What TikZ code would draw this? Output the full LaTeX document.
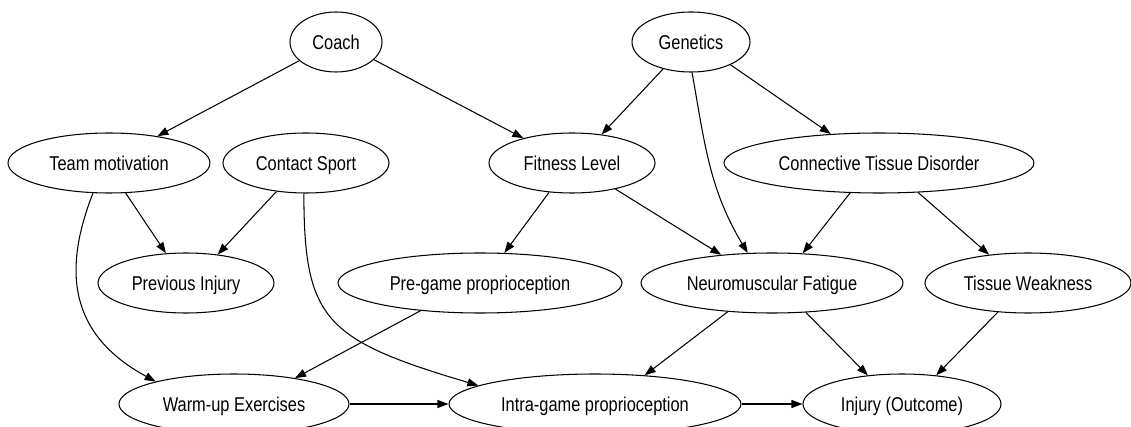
\documentclass[tikz,border=0pt]{standalone}
\usepackage{fontspec}
\setmainfont{Liberation Sans}[FakeStretch=0.82]
\usetikzlibrary{shapes.geometric,arrows.meta}
\tikzset{
  nd/.style={ellipse, draw=black, line width=1.05pt, inner sep=0pt,
    minimum height=60pt, text height=14.3pt, text depth=0pt,
    font={\fontsize{20pt}{24pt}\selectfont}},
  edge/.style={-{Triangle[length=11pt,width=8pt]}, line width=1.05pt, draw=black}
}
\begin{document}
\begin{tikzpicture}[x=1pt,y=-1pt]
\clip (0,0) rectangle (1131,427);
\fill[white] (0,0) rectangle (1131,427);
% row 1
\node[nd, minimum width=92pt]  (coach) at (336,42) {Coach};
\node[nd, minimum width=118pt] (gen)   at (691,42) {Genetics};
% row 2
\node[nd, minimum width=202pt] (tm)  at (109,163) {Team motivation};
\node[nd, minimum width=166pt] (cs)  at (306,163) {Contact Sport};
\node[nd, minimum width=166pt] (fit) at (572,163) {Fitness Level};
\node[nd, minimum width=310pt] (ctd) at (879,163) {Connective Tissue Disorder};
% row 3
\node[nd, minimum width=176pt] (pi) at (186,283) {Previous Injury};
\node[nd, minimum width=284pt] (pg) at (480,283) {Pre-game proprioception};
\node[nd, minimum width=262pt] (nf) at (772,283) {Neuromuscular Fatigue};
\node[nd, minimum width=206pt] (tw) at (1028,283) {Tissue Weakness};
% row 4
\node[nd, minimum width=230pt] (wu) at (234,404) {Warm-up Exercises};
\node[nd, minimum width=292pt] (ig) at (595,404) {Intra-game proprioception};
\node[nd, minimum width=198pt] (io) at (902,404) {Injury (Outcome)};
% edges
\draw[edge] (coach.207) -- (tm.29);
\draw[edge] (coach.-25.7) -- (fit.153.7);
\draw[edge] (gen.224.7) -- (fit.44.1);
\draw[edge] (gen.-88) to[out=-80,in=121] (nf.129.7);
\draw[edge] (gen.-30.8) -- (ctd.149.3);
\draw[edge] (tm.-61.6) -- (pi.124.4);
\draw[edge] (tm.242.5) .. controls (62,272) and (70,335) .. (wu.164.6);
\draw[edge] (cs.224.1) -- (pi.42.2);
\draw[edge] (cs.-94) .. controls (304,320) and (325,340) .. (ig.171.2);
\draw[edge] (fit.232.7) -- (pg.51.4);
\draw[edge] (fit.-31.1) -- (nf.151);
\draw[edge] (ctd.226.8) -- (nf.44.2);
\draw[edge] (ctd.-37.5) -- (tw.144);
\draw[edge] (pg.205.8) -- (wu.23.5);
\draw[edge] (nf.213.6) -- (ig.30.1);
\draw[edge] (nf.-41.6) -- (io.140.7);
\draw[edge] (tw.224.6) -- (io.40.6);
\draw[edge] (wu.east) -- (ig.west);
\draw[edge] (ig.east) -- (io.west);
\end{tikzpicture}
\end{document}
